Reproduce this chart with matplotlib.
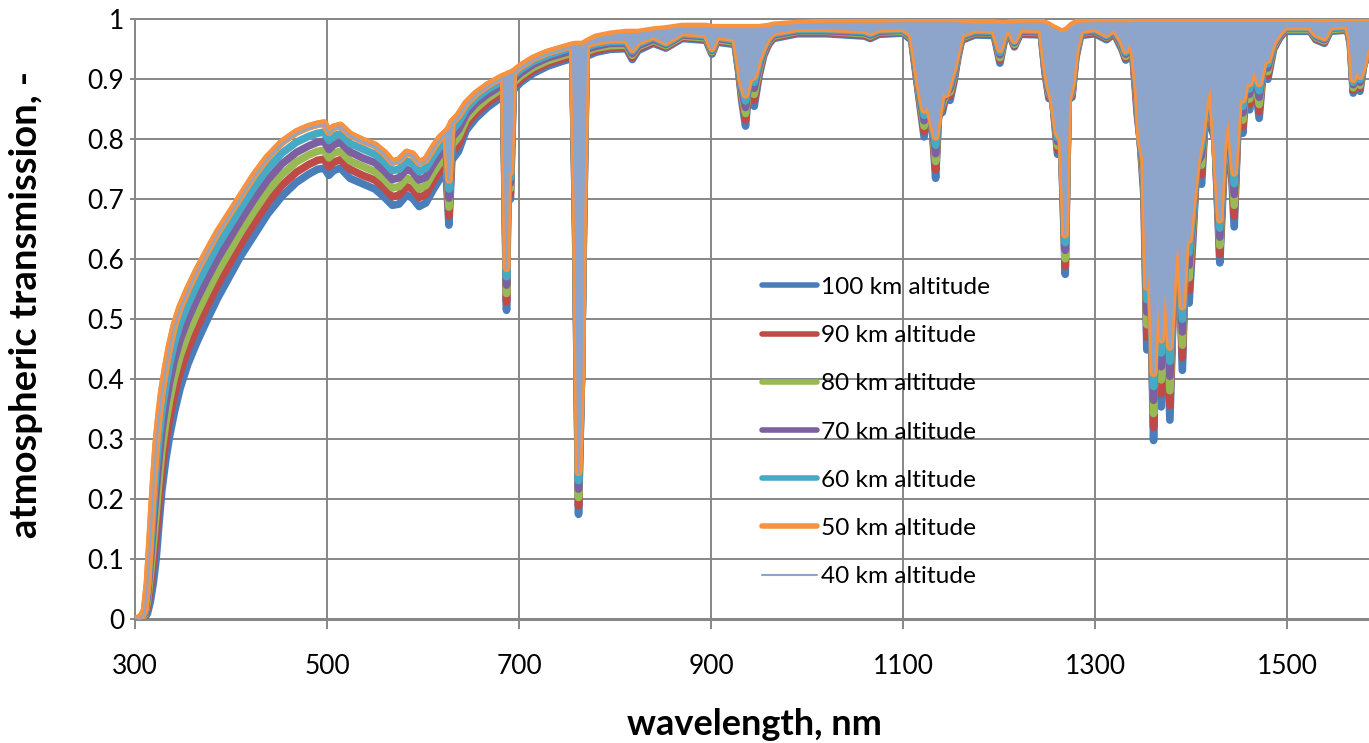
import numpy as np
import matplotlib.pyplot as plt

plt.rcParams['font.family'] = ['Lato', 'DejaVu Sans']

# wavelength grid, nm
wavelength = [
    300, 306, 310, 313, 316, 319, 322, 325, 328, 332,
    336, 341, 347, 355, 364, 374, 386, 398, 410, 424,
    438, 453, 468, 481, 490, 497, 502, 507, 514, 524,
    537, 550, 560, 568, 575, 583, 589, 596, 603, 611,
    618, 624, 627, 630, 637, 645, 655, 667, 678, 684,
    687, 689, 691, 694, 702, 715, 730, 745, 756, 759,
    762, 765, 767, 770, 780, 795, 812, 818, 824, 840,
    853, 870, 895, 901, 906, 925, 929, 932, 936, 940,
    945, 950, 955, 960, 965, 990, 1020, 1060, 1066, 1075,
    1100, 1109, 1113, 1117, 1122, 1126, 1130, 1134, 1137, 1141,
    1145, 1149, 1153, 1157, 1161, 1175, 1195, 1201, 1206, 1211,
    1216, 1222, 1244, 1248, 1252, 1256, 1261, 1265, 1269, 1272,
    1276, 1280, 1285, 1300, 1312, 1320, 1328, 1332, 1336, 1340,
    1344, 1347, 1351, 1354, 1357, 1361, 1365, 1369, 1373, 1378,
    1383, 1387, 1391, 1395, 1398, 1402, 1406, 1411, 1416, 1421,
    1425, 1430, 1434, 1439, 1445, 1450, 1454, 1458, 1461, 1465,
    1471, 1476, 1480, 1486, 1492, 1498, 1524, 1530, 1539, 1545,
    1563, 1566, 1569, 1573, 1576, 1580, 1583, 1590,
]

trans_100km = [
    0, 0, .002, .010, .030, .060, .100, .160, .215, .265,
    .305, .345, .385, .425, .460, .495, .535, .570, .605, .640,
    .675, .705, .728, .742, .750, .752, .740, .748, .752, .735,
    .726, .717, .703, .690, .692, .707, .702, .688, .694, .717,
    .735, .747, .657, .765, .780, .815, .835, .853, .866, .872,
    .515, .800, .700, .882, .895, .910, .922, .930, .935, .640,
    .175, .400, .625, .938, .945, .950, .951, .933, .948, .960,
    .952, .968, .965, .942, .962, .958, .910, .865, .822, .900,
    .855, .905, .940, .958, .968, .976, .976, .972, .968, .975,
    .977, .965, .915, .865, .804, .860, .830, .735, .840, .845,
    .875, .865, .895, .935, .965, .974, .973, .927, .968, .974,
    .954, .975, .974, .910, .868, .866, .775, .800, .575, .866,
    .870, .935, .973, .976, .966, .976, .950, .932, .950, .928,
    .841, .800, .704, .449, .620, .298, .560, .354, .580, .332,
    .600, .640, .415, .640, .527, .635, .760, .725, .870, .820,
    .800, .594, .738, .850, .654, .870, .810, .900, .849, .920,
    .835, .930, .900, .950, .968, .980, .980, .966, .960, .980,
    .982, .958, .877, .920, .880, .925, .935, .940,
]

trans_90km = [
    0, .001, .005, .020, .052, .092, .138, .196, .248, .296,
    .335, .374, .412, .450, .484, .518, .557, .591, .625, .660,
    .694, .723, .745, .758, .765, .767, .754, .762, .766, .750,
    .740, .732, .718, .704, .707, .721, .717, .703, .708, .731,
    .749, .760, .672, .778, .792, .824, .843, .860, .873, .879,
    .529, .800, .709, .888, .900, .915, .927, .934, .939, .650,
    .189, .400, .636, .942, .948, .953, .954, .936, .951, .962,
    .954, .970, .967, .944, .964, .960, .914, .871, .832, .900,
    .865, .911, .943, .960, .970, .978, .978, .974, .970, .977,
    .979, .967, .919, .870, .813, .860, .830, .749, .840, .852,
    .875, .872, .900, .938, .967, .976, .975, .932, .970, .976,
    .956, .977, .976, .914, .872, .866, .782, .800, .588, .866,
    .875, .938, .975, .978, .968, .978, .953, .935, .953, .931,
    .850, .800, .717, .470, .620, .320, .560, .376, .580, .356,
    .600, .640, .436, .640, .548, .648, .760, .741, .870, .835,
    .800, .608, .749, .850, .672, .870, .821, .900, .858, .920,
    .846, .930, .906, .953, .970, .982, .982, .968, .962, .982,
    .984, .960, .882, .920, .885, .925, .938, .943,
]

trans_80km = [
    0, .001, .007, .030, .074, .124, .176, .232, .281, .327,
    .365, .403, .439, .475, .508, .541, .579, .612, .645, .680,
    .713, .741, .762, .774, .780, .782, .769, .777, .780, .764,
    .755, .746, .733, .719, .721, .735, .731, .717, .723, .745,
    .762, .773, .687, .790, .804, .833, .851, .868, .880, .885,
    .543, .800, .718, .894, .906, .920, .931, .939, .944, .660,
    .203, .400, .647, .946, .952, .956, .957, .940, .954, .965,
    .956, .972, .969, .946, .966, .962, .918, .877, .843, .900,
    .875, .917, .946, .963, .972, .980, .980, .976, .972, .979,
    .980, .969, .923, .875, .822, .860, .830, .763, .840, .859,
    .875, .879, .905, .941, .969, .978, .977, .936, .972, .978,
    .958, .979, .978, .918, .877, .866, .789, .800, .601, .866,
    .879, .941, .977, .980, .970, .980, .956, .938, .956, .935,
    .860, .800, .730, .491, .620, .343, .560, .399, .580, .381,
    .600, .640, .457, .640, .569, .660, .760, .757, .870, .850,
    .800, .623, .761, .850, .690, .870, .832, .900, .867, .920,
    .858, .930, .913, .955, .972, .983, .983, .970, .964, .983,
    .985, .963, .886, .920, .890, .925, .941, .946,
]

trans_70km = [
    0, .002, .010, .040, .096, .156, .214, .268, .314, .358,
    .395, .432, .466, .500, .532, .564, .601, .633, .665, .700,
    .732, .759, .778, .789, .795, .797, .783, .791, .795, .779,
    .769, .761, .747, .733, .736, .750, .746, .732, .737, .759,
    .776, .786, .702, .803, .816, .842, .860, .875, .886, .892,
    .557, .800, .727, .900, .911, .925, .936, .943, .948, .670,
    .217, .400, .658, .950, .955, .960, .960, .943, .956, .967,
    .958, .974, .971, .948, .968, .964, .922, .883, .853, .900,
    .885, .923, .949, .965, .974, .981, .981, .978, .974, .980,
    .982, .971, .927, .880, .831, .860, .830, .776, .840, .866,
    .875, .885, .910, .944, .971, .979, .978, .941, .974, .979,
    .961, .980, .979, .922, .881, .866, .796, .800, .615, .866,
    .884, .943, .978, .981, .971, .981, .959, .942, .959, .938,
    .869, .800, .744, .512, .620, .365, .560, .421, .580, .405,
    .600, .640, .479, .640, .590, .673, .760, .773, .870, .865,
    .800, .637, .772, .850, .708, .870, .844, .900, .875, .920,
    .870, .930, .919, .958, .973, .985, .985, .972, .966, .985,
    .987, .965, .891, .920, .895, .925, .944, .949,
]

trans_60km = [
    0, .002, .012, .050, .118, .188, .252, .304, .347, .389,
    .425, .461, .493, .525, .556, .587, .623, .654, .685, .720,
    .751, .777, .795, .805, .810, .812, .798, .806, .809, .793,
    .784, .775, .762, .748, .750, .764, .760, .746, .752, .773,
    .789, .799, .717, .815, .828, .851, .868, .883, .893, .898,
    .571, .800, .736, .906, .917, .930, .940, .948, .953, .680,
    .231, .400, .669, .954, .959, .963, .963, .947, .959, .970,
    .960, .976, .973, .950, .970, .966, .926, .889, .864, .900,
    .895, .929, .952, .968, .976, .983, .983, .980, .976, .982,
    .983, .973, .931, .885, .840, .860, .830, .790, .840, .873,
    .875, .892, .915, .947, .973, .981, .980, .945, .976, .981,
    .963, .982, .981, .926, .886, .866, .803, .800, .628, .866,
    .888, .946, .980, .983, .973, .983, .962, .945, .962, .942,
    .879, .800, .757, .533, .620, .388, .560, .444, .580, .430,
    .600, .640, .500, .640, .611, .685, .760, .789, .870, .880,
    .800, .652, .784, .850, .726, .870, .855, .900, .884, .920,
    .881, .930, .926, .960, .975, .986, .986, .974, .968, .986,
    .988, .968, .895, .920, .900, .925, .947, .952,
]

trans_50km = [
    0, .003, .015, .060, .140, .220, .290, .340, .380, .420,
    .455, .490, .520, .550, .580, .610, .645, .675, .705, .740,
    .770, .795, .812, .821, .825, .827, .812, .820, .823, .808,
    .798, .790, .777, .762, .765, .778, .775, .761, .766, .787,
    .803, .812, .732, .828, .840, .860, .876, .890, .900, .905,
    .585, .800, .745, .912, .922, .935, .945, .952, .957, .690,
    .245, .400, .680, .958, .962, .966, .966, .950, .962, .972,
    .962, .978, .975, .952, .972, .968, .930, .895, .874, .900,
    .905, .935, .955, .970, .978, .985, .985, .982, .978, .984,
    .985, .975, .935, .890, .849, .860, .830, .804, .840, .880,
    .875, .899, .920, .950, .975, .983, .982, .950, .978, .983,
    .965, .984, .983, .930, .890, .866, .810, .800, .641, .866,
    .893, .949, .982, .985, .975, .985, .965, .948, .965, .945,
    .888, .800, .770, .554, .620, .410, .560, .466, .580, .454,
    .600, .640, .521, .640, .632, .698, .760, .805, .870, .895,
    .800, .666, .795, .850, .744, .870, .866, .900, .893, .920,
    .893, .930, .932, .963, .977, .988, .988, .976, .970, .988,
    .990, .970, .900, .920, .905, .925, .950, .955,
]

trans_40km = [
    0, 0, .012, .057, .137, .217, .287, .337, .377, .417,
    .452, .487, .517, .547, .577, .607, .642, .672, .702, .737,
    .767, .792, .809, .818, .822, .824, .809, .817, .820, .805,
    .795, .787, .774, .759, .762, .775, .772, .758, .763, .784,
    .800, .809, .732, .825, .837, .857, .873, .887, .897, .902,
    .585, .800, .745, .909, .919, .932, .942, .949, .954, .690,
    .245, .400, .680, .958, .962, .966, .966, .950, .962, .972,
    .962, .978, .975, .952, .972, .968, .930, .895, .874, .900,
    .905, .935, .955, .970, .978, .985, .985, .982, .978, .984,
    .985, .975, .935, .890, .849, .860, .830, .804, .840, .880,
    .875, .899, .920, .950, .975, .983, .982, .950, .978, .983,
    .965, .984, .983, .930, .890, .866, .810, .800, .641, .866,
    .893, .949, .982, .985, .975, .985, .965, .948, .965, .945,
    .888, .800, .770, .554, .620, .410, .560, .466, .580, .454,
    .600, .640, .521, .640, .632, .698, .760, .805, .870, .895,
    .800, .666, .795, .850, .744, .870, .866, .900, .893, .920,
    .893, .930, .932, .963, .977, .988, .988, .976, .970, .988,
    .990, .970, .900, .920, .905, .925, .950, .955,
]

# upper envelope of the dense 40/50 km lines inside the absorption bands
trans_top = [
    0, .003, .015, .060, .140, .220, .290, .340, .380, .420,
    .455, .490, .520, .550, .580, .610, .645, .675, .705, .740,
    .770, .795, .812, .821, .825, .827, .812, .820, .823, .808,
    .798, .790, .777, .762, .765, .778, .775, .761, .766, .787,
    .803, .812, .818, .828, .840, .860, .876, .890, .900, .905,
    .907, .909, .910, .912, .922, .935, .945, .952, .957, .958,
    .958, .958, .958, .962, .970, .975, .978, .978, .978, .982,
    .984, .988, .988, .986, .986, .986, .986, .986, .986, .986,
    .986, .986, .987, .988, .990, .993, .995, .995, .995, .995,
    .996, .996, .996, .996, .996, .996, .996, .996, .996, .996,
    .996, .996, .996, .996, .995, .994, .994, .993, .993, .994,
    .994, .995, .995, .993, .990, .986, .982, .979, .980, .984,
    .990, .994, .995, .996, .996, .996, .996, .996, .996, .997,
    .997, .997, .997, .997, .997, .997, .997, .997, .997, .997,
    .997, .997, .997, .997, .997, .997, .997, .997, .997, .997,
    .997, .997, .997, .997, .997, .997, .997, .997, .997, .997,
    .997, .997, .997, .997, .997, .997, .997, .996, .996, .997,
    .998, .998, .998, .998, .998, .998, .998, .998,
]

labels = ['100 km altitude', '90 km altitude', '80 km altitude', '70 km altitude',
          '60 km altitude', '50 km altitude', '40 km altitude']
colors = ['#4A7EBB', '#BE4B48', '#98B954', '#7D60A0', '#46AAC5', '#F69240', '#8EA5CB']
grid_gray = '#878787'

W, H = 1369, 743
fig = plt.figure(figsize=(W / 100, H / 100), dpi=100)
ax = fig.add_axes([135 / W, (H - 619.3) / H, (W - 135) / W, 600 / H])

line_kw = dict(lw=5.5, solid_joinstyle='round', solid_capstyle='round')
thick = [trans_100km, trans_90km, trans_80km, trans_70km, trans_60km, trans_50km]
for vals, lab, col in zip(thick, labels[:6], colors[:6]):
    ax.plot(wavelength, vals, color=col, label=lab, zorder=3, **line_kw)
ax.plot(wavelength, trans_top, color=colors[5], zorder=3, **line_kw)
ax.fill_between(wavelength, trans_40km, trans_top, color=colors[6], lw=0, zorder=4)
ax.plot(wavelength, trans_40km, color=colors[6], lw=1.5, label=labels[6], zorder=5)

ax.set_xlim(300, 300 + (W - 135) / 0.96)
ax.set_ylim(0, 1)
ax.set_xticks(range(300, 1600, 200))
yt = np.round(np.arange(0, 1.01, 0.1), 1)
ax.set_yticks(yt)
ax.set_yticklabels(['0' if v == 0 else '1' if v == 1 else f'{v:.1f}' for v in yt])

ax.grid(True, color=grid_gray, lw=1.4)
ax.set_axisbelow(True)
for side in ['left', 'top']:
    ax.spines[side].set_color(grid_gray)
    ax.spines[side].set_linewidth(1.4)
ax.spines['right'].set_visible(False)
ax.spines['bottom'].set_color(grid_gray)
ax.spines['bottom'].set_linewidth(2.2)

ax.tick_params(axis='x', direction='out', length=7.2, width=1.4, color=grid_gray,
               pad=18, labelsize=19)
ax.tick_params(axis='y', direction='out', length=3.6, width=1.4, color=grid_gray,
               pad=4, labelsize=19)

ax.set_xlabel('wavelength, nm', fontsize=26, fontweight='bold', va='center')
ax.xaxis.set_label_coords(0.502, -0.176)
ax.set_ylabel('atmospheric transmission, -', fontsize=27.5, fontweight='bold', va='center')
ax.yaxis.set_label_coords(-0.088, 0.525)

leg = ax.legend(loc='upper left', bbox_to_anchor=(0.508, 0.571), frameon=False,
                fontsize=17.6, handlelength=2.25, handletextpad=0.15,
                labelspacing=1.11, borderpad=0, borderaxespad=0)
for i, ln in enumerate(leg.get_lines()):
    ln.set_linewidth(4 if i < 6 else 1.5)
    ln.set_solid_capstyle('round')
leg.set_zorder(10)

fig.savefig('out.png', dpi=100)
